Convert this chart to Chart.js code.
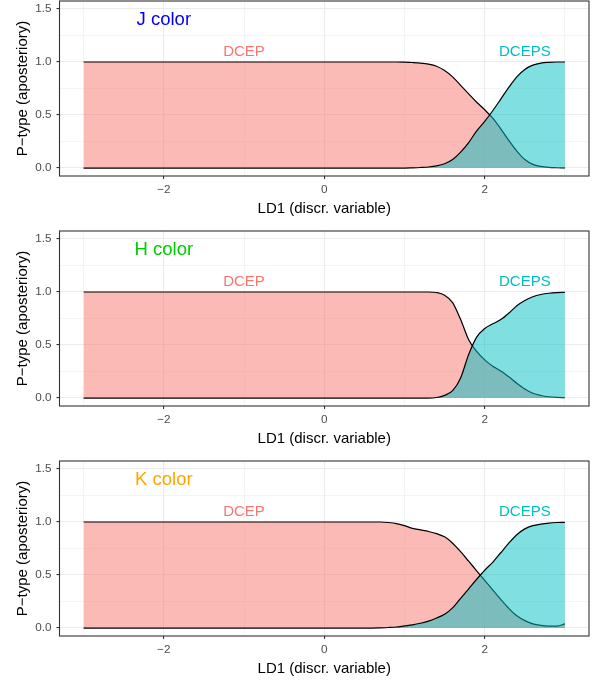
<!DOCTYPE html>
<html>
<head>
<meta charset="utf-8">
<script src="https://cdn.jsdelivr.net/npm/chart.js@4.4.1/dist/chart.umd.min.js"></script>
<style>
  html, body { margin: 0; padding: 0; background: #fff; overflow: hidden; }
  body { width: 597px; height: 683px; position: relative; }
  .panel { position: absolute; left: 0; width: 597px; height: 229px; }
</style>
</head>
<body>
<div class="panel" style="top:-1px"><canvas id="chartJ"></canvas></div>
<div class="panel" style="top:229px"><canvas id="chartH"></canvas></div>
<div class="panel" style="top:459px"><canvas id="chartK"></canvas></div>
<script>
const FONT = '"Liberation Sans", Arial, Helvetica, sans-serif';

// LD1 grid the posteriors were read at
const ld1 = [-3.0, -2.0, -1.0, 0.0, 0.5, 0.6, 0.7, 0.8, 0.9, 1.0, 1.1, 1.2, 1.3, 1.4, 1.5,
             1.6, 1.7, 1.8, 1.9, 2.0, 2.1, 2.2, 2.3, 2.4, 2.5, 2.6, 2.7, 2.8, 2.9, 3.0];

// J colour
const jDcep  = [1, 1, 1, 1, 1, 1, 1, 1, 1, 0.998, 0.995, 0.99, 0.98, 0.96, 0.92,
                0.86, 0.78, 0.70, 0.62, 0.55, 0.47, 0.37, 0.26, 0.16, 0.08, 0.035, 0.015, 0.006, 0.003, 0.002];
const jDceps = [0, 0, 0, 0, 0, 0, 0, 0, 0, 0, 0.002, 0.005, 0.01, 0.02, 0.04,
                0.08, 0.15, 0.24, 0.35, 0.44, 0.54, 0.65, 0.76, 0.86, 0.93, 0.97, 0.99, 0.997, 1.0, 1.0];

// H colour
const hDcep  = [1, 1, 1, 1, 1, 1, 1, 1, 1, 1, 1, 1, 1, 0.995, 0.97,
                0.90, 0.74, 0.55, 0.44, 0.36, 0.30, 0.255, 0.20, 0.14, 0.085, 0.045, 0.024, 0.012, 0.006, 0.003];
const hDceps = [0, 0, 0, 0, 0, 0, 0, 0, 0, 0, 0, 0, 0, 0.005, 0.025,
                0.07, 0.19, 0.41, 0.575, 0.655, 0.70, 0.74, 0.80, 0.87, 0.92, 0.955, 0.976, 0.988, 0.994, 0.997];

// K colour
const kDcep  = [1, 1, 1, 1, 1, 1, 1, 0.995, 0.985, 0.965, 0.94, 0.925, 0.91, 0.89, 0.86,
                0.80, 0.72, 0.63, 0.54, 0.45, 0.36, 0.27, 0.185, 0.115, 0.07, 0.04, 0.025, 0.018, 0.018, 0.04];
const kDceps = [0, 0, 0, 0, 0, 0, 0.002, 0.005, 0.01, 0.02, 0.03, 0.045, 0.065, 0.095, 0.13,
                0.19, 0.28, 0.37, 0.46, 0.545, 0.62, 0.71, 0.80, 0.88, 0.935, 0.965, 0.98, 0.99, 0.995, 0.997];

const xTicks = [-3, -2, -1, 0, 1, 2, 3];
const xTickLabels = ['', '\u22122', '', '0', '', '2', ''];
const yTicks = [0, 0.25, 0.5, 0.75, 1.0, 1.25, 1.5];
const yTickLabels = ['0.0', '', '0.5', '', '1.0', '', '1.5'];

const panels = [
  { id: 'chartJ', title: 'J color', titleColor: '#0000FF', dcep: jDcep, dceps: jDceps },
  { id: 'chartH', title: 'H color', titleColor: '#00CD00', dcep: hDcep, dceps: hDceps },
  { id: 'chartK', title: 'K color', titleColor: '#FFA500', dcep: kDcep, dceps: kDceps },
];

function decor(labels) {
  return {
    id: 'decor',
    afterDatasetsDraw(chart) {
      const { ctx, chartArea: a, scales: { x, y } } = chart;
      ctx.save();
      labels.forEach(l => {
        ctx.font = l.size + 'px ' + FONT;
        ctx.fillStyle = l.color;
        ctx.textAlign = 'center';
        ctx.textBaseline = 'middle';
        ctx.fillText(l.text, x.getPixelForValue(l.x), y.getPixelForValue(l.y));
      });
      ctx.strokeStyle = '#333333';
      ctx.lineWidth = 1.1;
      ctx.strokeRect(a.left, a.top, a.right - a.left, a.bottom - a.top);
      ctx.restore();
    }
  };
}

const gridOpts = labels => ({
  color: '#EBEBEB',
  lineWidth: c => labels[c.index] ? 1.1 : 0.55,
  tickColor: c => labels[c.index] ? '#333333' : 'rgba(0,0,0,0)',
  tickLength: 3,
  tickWidth: 1.1,
});

panels.forEach(p => {
  new Chart(document.getElementById(p.id), {
    type: 'line',
    data: {
      datasets: [
        {
          label: 'DCEPS',
          data: ld1.map((x, i) => ({ x, y: p.dceps[i] })),
          backgroundColor: 'rgba(0,191,196,0.5)',
          borderColor: '#000000',
          borderWidth: 1.2,
          fill: 'origin',
          order: 1,
        },
        {
          label: 'DCEP',
          data: ld1.map((x, i) => ({ x, y: p.dcep[i] })),
          backgroundColor: 'rgba(248,118,109,0.5)',
          borderColor: '#000000',
          borderWidth: 1.2,
          fill: 'origin',
          order: 2,
        },
      ]
    },
    options: {
      responsive: true,
      maintainAspectRatio: false,
      animation: false,
      layout: { padding: { top: 2, right: 8, left: 0, bottom: 0 } },
      plugins: { legend: { display: false }, tooltip: { enabled: false } },
      elements: { point: { radius: 0 }, line: { cubicInterpolationMode: 'monotone' } },
      scales: {
        x: {
          type: 'linear',
          min: -3.3,
          max: 3.3,
          afterBuildTicks: s => { s.ticks = xTicks.map(v => ({ value: v })); },
          afterFit: s => { s.height = 52; s.paddingLeft = 0; s.paddingRight = 0; },
          border: { display: false },
          grid: gridOpts(xTickLabels),
          ticks: {
            autoSkip: false,
            maxRotation: 0,
            padding: 3.5,
            color: '#4D4D4D',
            font: { family: FONT, size: 11.7 },
            callback: (v, i) => xTickLabels[i],
          },
          title: {
            display: true,
            text: 'LD1 (discr. variable)',
            color: '#000000',
            font: { family: FONT, size: 15 },
            padding: { top: 0, bottom: 10 },
          },
        },
        y: {
          min: -0.075,
          max: 1.575,
          afterBuildTicks: s => { s.ticks = yTicks.map(v => ({ value: v })); },
          afterFit: s => { s.width = 59.5; s.paddingTop = 0; s.paddingBottom = 0; },
          border: { display: false },
          grid: gridOpts(yTickLabels),
          ticks: {
            autoSkip: false,
            padding: 5,
            color: '#4D4D4D',
            font: { family: FONT, size: 11.7 },
            callback: (v, i) => yTickLabels[i],
          },
          title: {
            display: true,
            text: 'P\u2212type (aposteriory)',
            color: '#000000',
            font: { family: FONT, size: 15 },
            padding: { top: 14, bottom: 0 },
          },
        },
      },
    },
    plugins: [decor([
      { text: p.title, x: -2, y: 1.4, color: p.titleColor, size: 18.5 },
      { text: 'DCEP', x: -1, y: 1.1, color: '#F8766D', size: 15 },
      { text: 'DCEPS', x: 2.5, y: 1.1, color: '#00BFC4', size: 15 },
    ])],
  });
});
</script>
</body>
</html>
